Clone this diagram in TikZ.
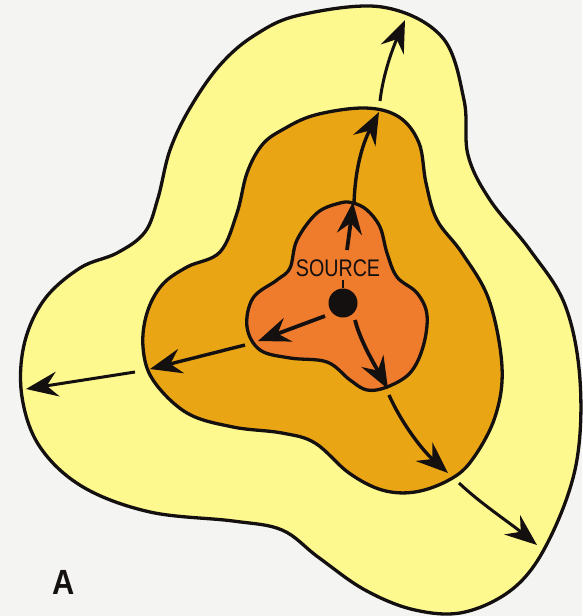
\documentclass[tikz,border=0pt]{standalone}
\usepackage{fontspec}
\setmainfont{Liberation Sans}
\usetikzlibrary{arrows.meta}
\definecolor{bgc}{HTML}{F4F4F2}
\definecolor{outerc}{HTML}{FDF98E}
\definecolor{midc}{HTML}{EAA514}
\definecolor{innerc}{HTML}{EF7B2C}
\definecolor{inkc}{HTML}{141010}
\tikzset{
  zone/.style={draw=inkc, line width=3.3pt, line join=round},
  flow/.style={draw=inkc, line width=3pt, -{Stealth[length=32pt,width=25pt,inset=11pt]}},
}
\begin{document}
\begin{tikzpicture}[x=1pt,y=-1pt]
\useasboundingbox (0,0) rectangle (582,616);
\fill[bgc] (0,0) rectangle (582,616);
% outer zone
\filldraw[zone, fill=outerc] plot[smooth cycle, tension=0.6] coordinates {
 (300,15) (382,7) (442,37) (464,100) (468,155) (490,200) (530,250) (565,305)
 (580,380) (576,465) (549,540) (515,587) (465,612) (415,610) (365,590) (318,557)
 (282,530) (233,521) (150,512) (83,487) (40,447) (22,397) (24,345) (44,300)
 (80,268) (117,253) (145,232) (158,198) (170,150) (190,108) (220,65) (255,35)};
% middle zone
\filldraw[zone, fill=midc] plot[smooth cycle, tension=0.6] coordinates {
 (282,130) (315,115) (365,108) (399,117) (419,143) (426,183) (437,220) (462,253)
 (489,300) (502,367) (495,417) (472,460) (449,480) (415,492) (382,490) (349,473)
 (315,443) (282,433) (233,427) (187,413) (153,380) (143,347) (147,313) (162,285)
 (187,267) (220,252) (237,213) (247,173) (262,145)};
% inner zone
\filldraw[zone, fill=innerc] plot[smooth cycle, tension=0.6] coordinates {
 (340,203) (353,203) (367,210) (380,227) (387,253) (397,277) (417,293) (427,315)
 (423,347) (410,373) (387,387) (367,390) (350,380) (327,362) (290,358) (260,350)
 (247,327) (253,298) (277,280) (290,268) (297,240) (317,213)};
% source
\node[circle, fill=inkc, minimum size=29pt, inner sep=0pt] (src) at (343,303) {};
\node[inkc, font=\fontsize{24}{24}\selectfont, xscale=0.82, inner sep=0pt] (lbl) at (338,268) {SOURCE};
\coordinate (t1) at (343,280);
\coordinate (t2) at (343,288);
\draw[inkc, line width=2.6pt] (t1) -- (t2);
% arrow endpoints
\coordinate (a1s) at (347,250); \coordinate (a1e) at (353,202);
\coordinate (a2s) at (325,316); \coordinate (a2e) at (258,341);
\coordinate (a3s) at (355,320); \coordinate (a3e) at (388,389);
\coordinate (a4s) at (354,204); \coordinate (a4e) at (379,112);
\coordinate (a5s) at (245,345); \coordinate (a5e) at (150,369);
\coordinate (a6s) at (389,395); \coordinate (a6e) at (448,473);
\coordinate (a7s) at (380,101); \coordinate (a7e) at (405,20);
\coordinate (a8s) at (135,372); \coordinate (a8e) at (26,389);
\coordinate (a9s) at (459,483); \coordinate (a9e) at (537,545);
% inner arrows
\draw[flow, line width=3.8pt] (a1s) .. controls (349,235) and (351,220) .. (a1e);
\draw[flow, line width=3.8pt] (a2s) -- (a2e);
\draw[flow, line width=3.8pt] (a3s) .. controls (360,340) and (373,362) .. (a3e);
% middle arrows
\draw[flow, line width=3.4pt] (a4s) .. controls (355,170) and (362,145) .. (a4e);
\draw[flow, line width=3.4pt] (a5s) -- (a5e);
\draw[flow, line width=3.4pt] (a6s) .. controls (400,420) and (420,448) .. (a6e);
% outer arrows
\draw[flow] (a7s) .. controls (383,75) and (392,50) .. (a7e);
\draw[flow] (a8s) -- (a8e);
\draw[flow] (a9s) .. controls (480,503) and (510,523) .. (a9e);
% label
\node[inkc, font=\fontsize{35}{35}\selectfont\bfseries, xscale=0.88, inner sep=0pt] (lblA) at (64,582) {A};
\end{tikzpicture}
\end{document}
